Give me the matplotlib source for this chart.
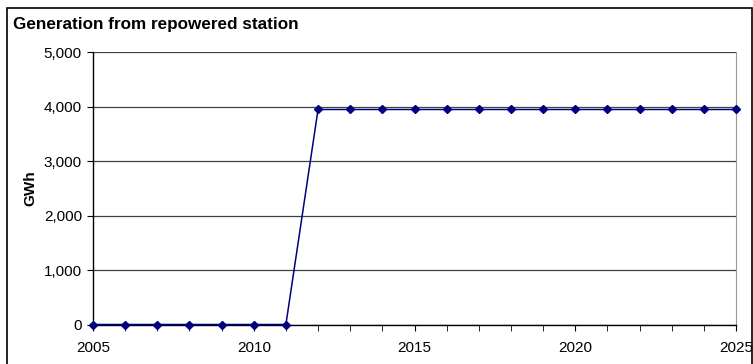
import matplotlib.pyplot as plt
from matplotlib.patches import Rectangle
from matplotlib.ticker import MultipleLocator, FuncFormatter

years = list(range(2005, 2026))
generation = [0, 0, 0, 0, 0, 0, 0,
              3945, 3945, 3945, 3945, 3945, 3945, 3945,
              3945, 3945, 3945, 3945, 3945, 3945, 3945]

plt.rcParams['font.family'] = ['Liberation Sans', 'DejaVu Sans']

W, H = 753, 364
fig = plt.figure(figsize=(W / 100, H / 100), dpi=100)

# outer chart border
fig.patches.append(Rectangle((7 / W, -0.05), (752 - 7) / W, 1.05 - 8 / H,
                             transform=fig.transFigure, fill=False,
                             edgecolor='black', linewidth=1.2))

ax = fig.add_axes([93 / W, 1 - 324.5 / H, (736 - 93) / W, (324.5 - 52) / H])
ax.plot(years, generation, color='#000080', linewidth=1.1,
        marker='D', markersize=4.5, clip_on=False, zorder=3)

ax.set_xlim(2005, 2025)
ax.set_ylim(0, 5000)
ax.xaxis.set_major_locator(MultipleLocator(5))
ax.xaxis.set_minor_locator(MultipleLocator(1))
ax.yaxis.set_major_locator(MultipleLocator(1000))
ax.yaxis.set_major_formatter(FuncFormatter(lambda v, p: f'{int(v):,}'))

ax.grid(True, axis='y', color='#404040', linewidth=0.9)
ax.set_axisbelow(True)
for s in ['left', 'bottom']:
    ax.spines[s].set_color('black')
    ax.spines[s].set_linewidth(1.0)
ax.spines['top'].set_visible(False)
ax.spines['right'].set_color('#999999')

ax.tick_params(axis='both', which='both', direction='out', labelsize=11)
ax.tick_params(axis='x', which='both', length=4, pad=8)
ax.tick_params(axis='y', length=4, pad=4)

ax.set_ylabel('GWh', fontsize=11, fontweight='bold')
ax.yaxis.set_label_coords((37 - 93) / (736 - 93), 0.5)
fig.text(13 / W, 1 - 29 / H, 'Generation from repowered station',
         fontsize=12.3, fontweight='bold', ha='left', va='baseline')

fig.savefig('out.png', dpi=100)
